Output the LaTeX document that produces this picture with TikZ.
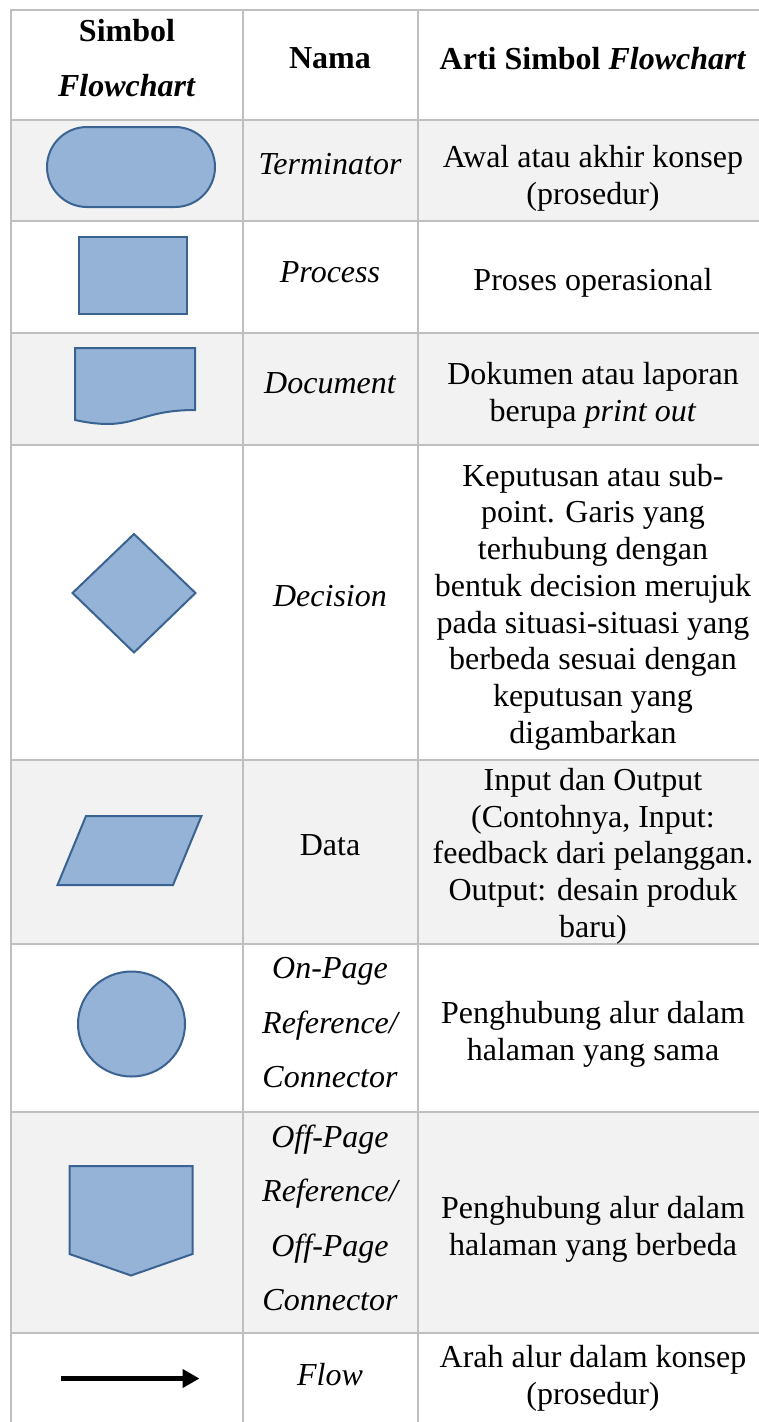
\documentclass[tikz,border=0pt]{standalone}
\usepackage{fontspec}
\setmainfont{Liberation Serif}
\usetikzlibrary{arrows.meta}
\definecolor{gridc}{HTML}{BFBFBF}
\definecolor{shade}{HTML}{F2F2F2}
\definecolor{shpfill}{HTML}{95B3D7}
\definecolor{shpline}{HTML}{3A6391}
\begin{document}
\begin{tikzpicture}[x=1pt,y=-1pt,
  txt/.style={inner sep=0pt, align=center, font=\fontsize{32}{36.7}\selectfont},
  nm/.style={inner sep=0pt, align=center, font=\fontsize{32}{54.5}\selectfont\itshape},
  hd/.style={inner sep=0pt, align=center, font=\fontsize{32}{55}\selectfont\bfseries},
  shp/.style={fill=shpfill, draw=shpline, line width=2pt, line join=miter},
  gridline/.style={draw=gridc, line width=2pt},
  shaderow/.style={fill=shade, draw=none}]
\useasboundingbox (0,0) rectangle (759,1422);
\fill[white] (0,0) rectangle (759,1422);
% shaded rows
\path[shaderow] (11,120) rectangle (759,220.5);
\path[shaderow] (11,333) rectangle (759,445);
\path[shaderow] (11,760) rectangle (759,943.5);
\path[shaderow] (11,1111.5) rectangle (759,1333);
% grid
\foreach \yy in {10,120,220.5,333,445,760,943.5,1111.5,1333}
  \draw[gridline] (10,\yy) -- (759,\yy);
\foreach \xx in {11,243,418}
  \draw[gridline] (\xx,9) -- (\xx,1422);
% header
\node[hd] (h1) at (127,58) {Simbol\\\textit{Flowchart}};
\node[hd] (h2) at (330,58.5) {Nama};
\node[hd] (h3) at (593,58.5) {Arti Simbol \textit{Flowchart}};
% row 1 terminator
\draw[shp, rounded corners=40pt] (47,127) rectangle (215,207);
\node[nm] (n1) at (330,164) {Terminator};
\node[txt] (d1) at (593,178) {Awal atau akhir konsep\\(prosedur)};
% row 2 process
\draw[shp] (79,237) rectangle (187,314);
\node[nm] (n2) at (330,272) {Process};
\node[txt] (d2) at (593,283) {Proses operasional};
% row 3 document
\draw[shp] (75,348) -- (195,348) -- (195,410)
  .. controls (135,410) and (135,433) .. (75,420) -- cycle;
\node[nm] (n3) at (330,383) {Document};
\node[txt] (d3) at (593,395) {Dokumen atau laporan\\berupa \textit{print out}};
% row 4 decision
\draw[shp] (134,534) -- (195.5,593) -- (134,652.5) -- (72.5,593) -- cycle;
\node[nm] (n4) at (330,596) {Decision};
\node[txt] (d4) at (593,607) {Keputusan atau sub-\\point. Garis yang\\terhubung dengan\\bentuk decision merujuk\\pada situasi-situasi yang\\berbeda sesuai dengan\\keputusan yang\\digambarkan};
% row 5 data
\draw[shp] (86,816) -- (201.5,816) -- (173,885) -- (57.5,885) -- cycle;
\node[txt] (n5) at (330,845) {Data};
\node[txt] (d5) at (593,856) {Input dan Output\\(Contohnya, Input:\\feedback dari pelanggan.\\Output: desain produk\\baru)};
% row 6 on-page
\draw[shp] (131.5,1024) ellipse [x radius=53.5, y radius=52.5];
\node[nm] (n6) at (330,1023) {On-Page\\Reference/\\Connector};
\node[txt] (d6) at (593,1034) {Penghubung alur dalam\\halaman yang sama};
% row 7 off-page
\draw[shp] (69.5,1166) -- (192.5,1166) -- (192.5,1254) -- (131,1275.5) -- (69.5,1254) -- cycle;
\node[nm] (n7) at (330,1218) {Off-Page\\Reference/\\Off-Page\\Connector};
\node[txt] (d7) at (593,1229) {Penghubung alur dalam\\halaman yang berbeda};
% row 8 flow
\coordinate (fs) at (60.5,1378.5);
\coordinate (fe) at (199.5,1378.5);
\draw[line width=5.5pt, -{Triangle[length=17pt, width=18pt]}] (fs) -- (fe);
\node[nm] (n8) at (330,1375) {Flow};
\node[txt] (d8) at (593,1378) {Arah alur dalam konsep\\(prosedur)};
\end{tikzpicture}
\end{document}
